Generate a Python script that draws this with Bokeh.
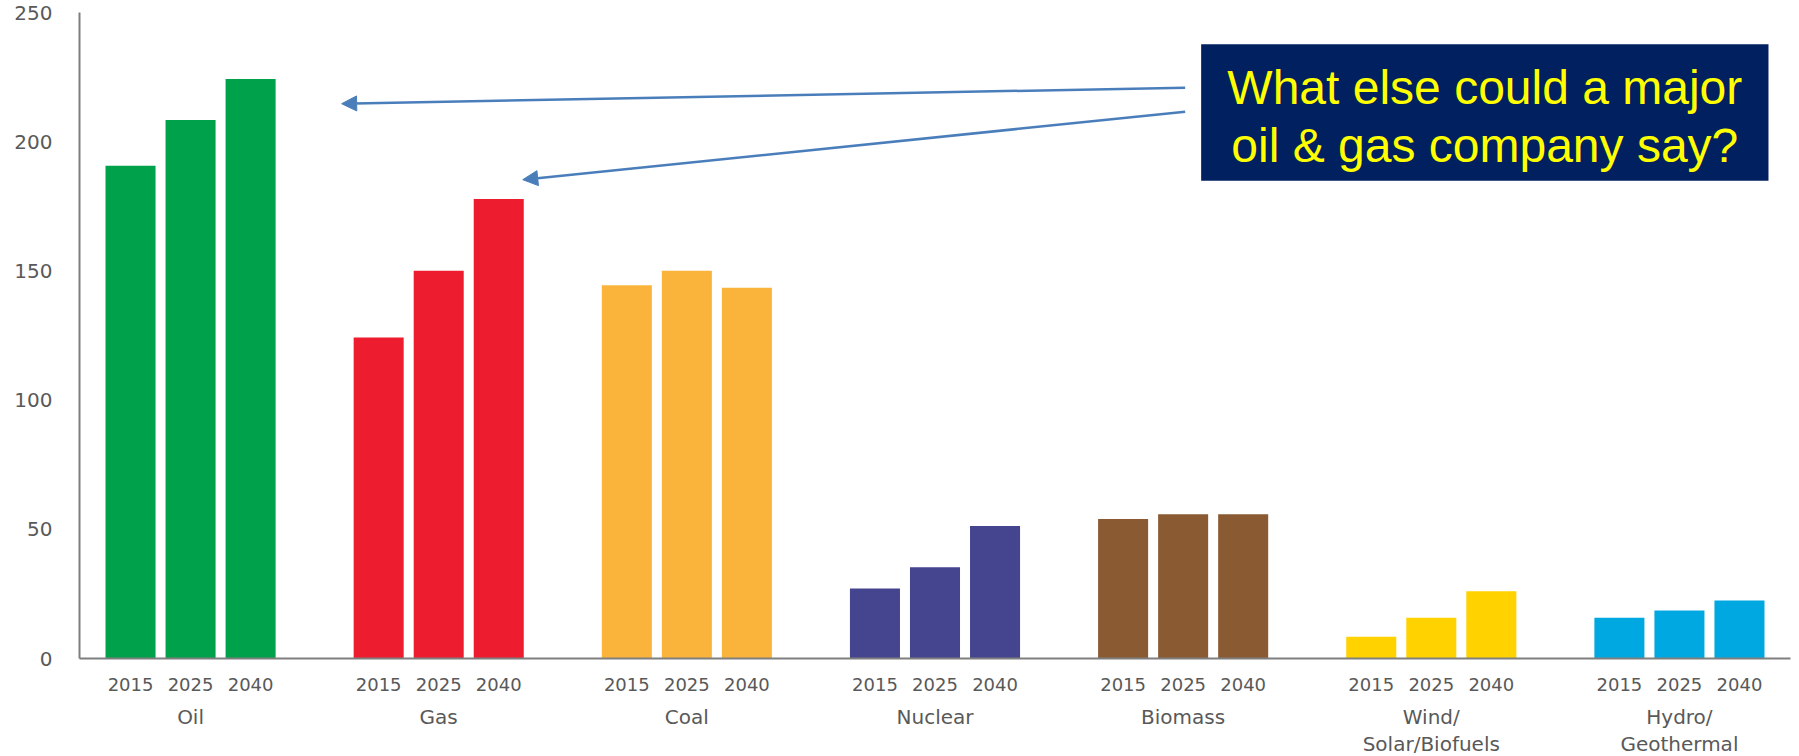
from bokeh.plotting import figure
from bokeh.models import (Range1d, FixedTicker, LinearAxis, BoxAnnotation, Label,
                          Arrow, NormalHead, ColumnDataSource)
from bokeh.embed import file_html
from bokeh.resources import INLINE

# ---- data ----
categories = ["Oil", "Gas", "Coal", "Nuclear", "Biomass", "Wind/\nSolar/Biofuels", "Hydro/\nGeothermal"]
years = ["2015", "2025", "2040"]
v2015 = [190.7, 124.2, 144.4, 27.1, 54.0, 8.4, 15.8]
v2025 = [208.4, 150.1, 150.1, 35.3, 55.8, 15.8, 18.6]
v2040 = [224.3, 177.8, 143.5, 51.3, 55.8, 26.0, 22.4]
colors = ["#00A14B", "#ED1C2E", "#FAB43C", "#45448F", "#8A5A32", "#FFD200", "#00A8E1"]
y_ticks = [0, 50, 100, 150, 200, 250]
note = ["What else could a major", "oil & gas company say?"]

# ---- layout constants ----
BAR_PITCH = 60
GROUP_PITCH = 248
BAR_W = 50
PAD = 51

series = [v2015, v2025, v2040]
xs, tops, fills, xlab = [], [], [], {}
for g, cat in enumerate(categories):
    for j, yr in enumerate(years):
        x = g * GROUP_PITCH + j * BAR_PITCH
        xs.append(x)
        tops.append(series[j][g])
        fills.append(colors[g])
        xlab[x] = yr
group_centers = {g * GROUP_PITCH + BAR_PITCH: cat for g, cat in enumerate(categories)}

x_start = -PAD
x_end = (len(categories) - 1) * GROUP_PITCH + (len(years) - 1) * BAR_PITCH + PAD

p = figure(frame_width=1711, frame_height=646, output_backend="svg", toolbar_location=None,
           x_range=Range1d(x_start, x_end), y_range=Range1d(0, 250),
           x_axis_location=None, y_axis_location=None,
           min_border_left=79, min_border_right=9, min_border_top=12, min_border_bottom=96)
p.outline_line_color = None
p.xgrid.visible = False
p.ygrid.visible = False
p.background_fill_color = "white"

src = ColumnDataSource(dict(x=xs, top=tops, color=fills))
p.vbar(x="x", top="top", bottom=0, width=BAR_W, color="color", source=src, line_color=None)

axis_gray = "#7F7F7F"
lab_gray = "#595959"

yax = LinearAxis(ticker=FixedTicker(ticks=y_ticks))
yax.axis_line_color = axis_gray
yax.axis_line_width = 2
yax.major_tick_line_color = None
yax.minor_tick_line_color = None
yax.major_tick_out = 0
yax.major_tick_in = 0
yax.major_label_standoff = 27
yax.major_label_text_font = "DejaVu Sans"
yax.major_label_text_font_size = "20px"
yax.major_label_text_color = lab_gray
p.add_layout(yax, "left")

xax = LinearAxis(ticker=FixedTicker(ticks=list(xlab.keys())), major_label_overrides=xlab)
xax.axis_line_color = axis_gray
xax.axis_line_width = 2
xax.major_tick_line_color = None
xax.minor_tick_line_color = None
xax.major_tick_out = 0
xax.major_tick_in = 0
xax.major_label_standoff = 19
xax.major_label_text_font = "DejaVu Sans"
xax.major_label_text_font_size = "18px"
xax.major_label_text_color = lab_gray
p.add_layout(xax, "below")

cax = LinearAxis(ticker=FixedTicker(ticks=list(group_centers.keys())), major_label_overrides=group_centers)
cax.axis_line_color = None
cax.major_tick_line_color = None
cax.minor_tick_line_color = None
cax.major_tick_out = 0
cax.major_tick_in = 0
cax.major_label_standoff = 11
cax.major_label_text_font = "DejaVu Sans"
cax.major_label_text_font_size = "20px"
cax.major_label_text_line_height = 1.15
cax.major_label_text_color = lab_gray
p.add_layout(cax, "below")

# ---- annotation box ----
box_l, box_r, box_t, box_b = 1070, 1637, 237.7, 184.9
p.add_layout(BoxAnnotation(left=box_l, right=box_r, top=box_t, bottom=box_b,
                           fill_color="#002060", fill_alpha=1.0, line_color=None, level="overlay"))
cx = (box_l + box_r) / 2
p.add_layout(Label(x=cx, y=220.9, text=note[0], text_align="center", text_baseline="middle",
                   text_font="Liberation Sans", text_font_size="48px", text_color="#FFFF00", level="overlay"))
p.add_layout(Label(x=cx, y=198.5, text=note[1], text_align="center", text_baseline="middle",
                   text_font="Liberation Sans", text_font_size="48px", text_color="#FFFF00", level="overlay"))

# arrows from the box to the Oil and Gas 2040 bars
arrow_col = "#4A7EBB"
oil_x = xs[2]
gas_x = xs[5]
p.add_layout(Arrow(x_start=box_l - 16, y_start=220.9, x_end=oil_x + 91, y_end=v2040[0] - 9.6,
                   line_color=arrow_col, line_width=2.5,
                   end=NormalHead(size=15, fill_color=arrow_col, line_color=arrow_col)))
p.add_layout(Arrow(x_start=box_l - 16, y_start=211.6, x_end=gas_x + 24, y_end=v2040[1] + 7.5,
                   line_color=arrow_col, line_width=2.5,
                   end=NormalHead(size=15, fill_color=arrow_col, line_color=arrow_col)))

open("out.html", "w").write(file_html(p, INLINE))
